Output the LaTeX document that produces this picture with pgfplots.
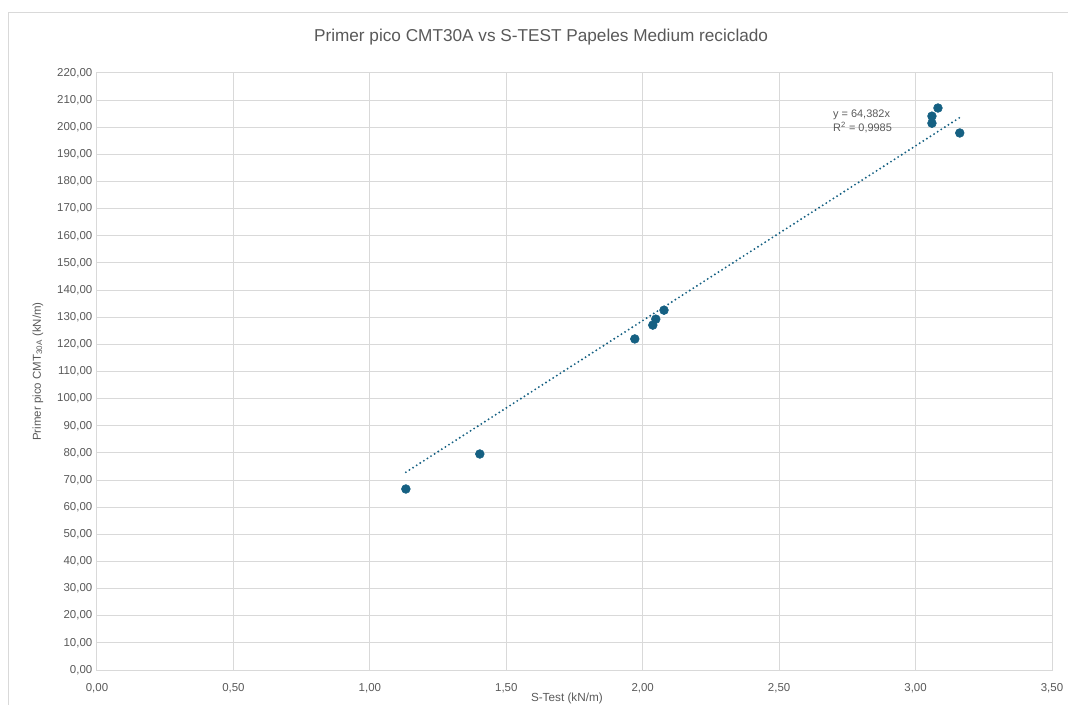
\documentclass[border=0pt]{standalone}
\usepackage{pgfplots}
\pgfplotsset{compat=1.18}
\usepackage{fontspec}
\setmainfont{Liberation Sans}
\definecolor{txt}{HTML}{595959}
\definecolor{gridc}{HTML}{D9D9D9}
\definecolor{ptc}{HTML}{156082}
\begin{document}
\begin{tikzpicture}
\path[use as bounding box] (-72.75pt,-25.5pt) rectangle (728.25pt,502.5pt);
\draw[gridc, line width=0.75pt] (-66.4pt,-40pt) -- (-66.4pt,493.1pt) -- (760pt,493.1pt);
\begin{axis}[
  at={(0,0)}, anchor=south west,
  scale only axis, width=716.25pt, height=447.75pt,
  xmin=0, xmax=3.5, ymin=0, ymax=220,
  xtick distance=0.5, ytick distance=10,
  grid=major, major grid style={gridc, line width=0.75pt},
  axis line style={gridc, line width=0.75pt},
  tick style={draw=none},
  ticklabel style={font=\fontsize{8.6}{10}\selectfont, text=txt},
  /pgf/number format/.cd, fixed, fixed zerofill, precision=2, use comma, assume math mode=true,
  /pgfplots/.cd,
  xlabel={S-Test (kN/m)},
  xlabel style={font=\fontsize{8.8}{10}\selectfont, text=txt, at={(rel axis cs:0.492,-0.048)}, anchor=center},
  ylabel={Primer pico CMT\textsubscript{30A} (kN/m)},
  ylabel style={font=\fontsize{8.6}{10}\selectfont, text=txt, at={(rel axis cs:-0.062,0.5)}, anchor=center, rotate=0},
  title={Primer pico CMT30A vs S-TEST Papeles Medium reciclado},
  every axis title shift=0pt,
  title style={font=\fontsize{12.9}{14}\selectfont, text=txt, at={(rel axis cs:0.465,1.060)}, anchor=center, yshift=0pt},
  xticklabel style={yshift=-6.5pt},
  yticklabel style={xshift=0pt},
  clip=false,
]
\addplot[only marks, mark=*, mark size=3.3pt, color=ptc] coordinates {
  (1.132,66.7) (1.403,79.6) (1.971,122.0) (2.037,127.1) (2.048,129.3)
  (2.078,132.6) (3.060,204.1) (3.060,201.5) (3.082,207.1) (3.162,197.9)
};
\addplot[ptc, line width=1.6pt, line cap=round, dash pattern=on 0pt off 3.2pt] coordinates {
  (1.132,72.88) (3.162,203.58)
};
\node[anchor=west, font=\fontsize{8.2}{9.5}\selectfont, text=txt, align=left, inner sep=0pt] at (axis cs:2.697,202.1) {y = 64,382x\\[1pt]R\textsuperscript{2} = 0,9985};
\end{axis}
\end{tikzpicture}
\end{document}
